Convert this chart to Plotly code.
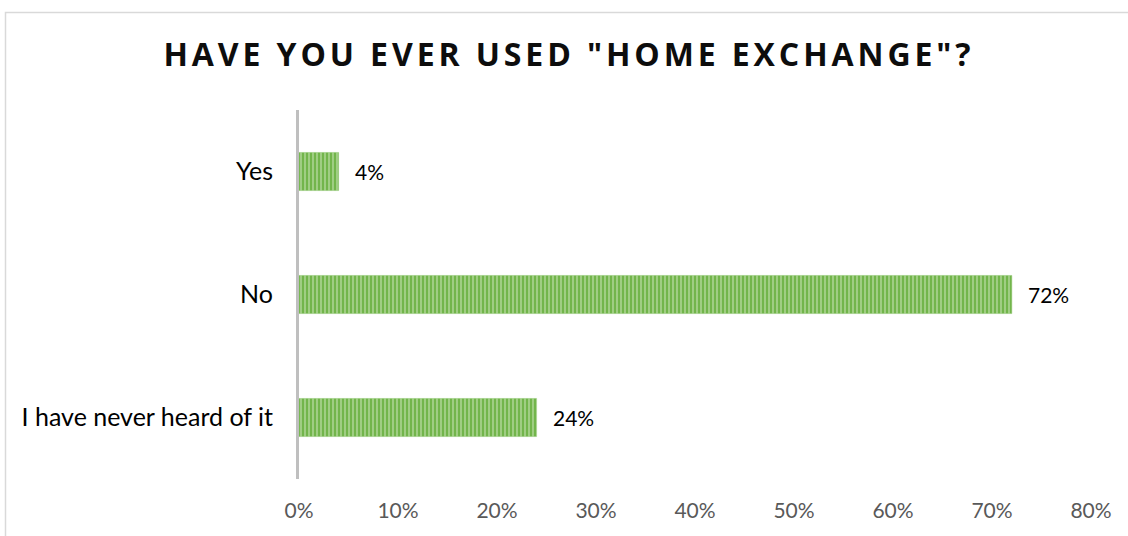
import plotly.graph_objects as go

# Survey answers, bottom to top as drawn on the category axis
categories = ["I have never heard of it", "No", "Yes"]
shares = [24, 72, 4]
x_ticks = [0, 10, 20, 30, 40, 50, 60, 70, 80]
x_tick_labels = ["0%", "10%", "20%", "30%", "40%", "50%", "60%", "70%", "80%"]
title_text = 'HAVE YOU EVER USED "HOME EXCHANGE"?'

W, H = 1128, 536
ML, MR, MT, MB = 299, 37, 110, 57
PW, PH = W - ML - MR, H - MT - MB

label_font = "Lato, 'Open Sans', sans-serif"

fig = go.Figure()
fig.add_trace(go.Bar(
    x=shares,
    y=categories,
    orientation="h",
    width=0.31,
    marker=dict(
        color="#72b54b",
        line=dict(color="#8cc46c", width=0.5),
        pattern=dict(shape="|", fgcolor="#d6ecc8", bgcolor="#72b54b",
                     size=4, solidity=0.45, fillmode="overlay"),
    ),
    hoverinfo="skip",
))

# value labels just to the right of each bar
for v, c in zip(shares, categories):
    fig.add_annotation(
        x=v, y=c, text=f"{v}%", showarrow=False,
        xanchor="left", yanchor="middle", xshift=14,
        font=dict(family=label_font, size=21, color="#000000"),
    )

# outer chart frame
fig.add_shape(
    type="rect", xref="paper", yref="paper",
    x0=(5.5 - ML) / PW, x1=(W + 20 - ML) / PW,
    y0=-(H + 20 - (H - MB)) / PH, y1=((H - MB) - 12.5) / PH,
    line=dict(color="#d9d9d9", width=1.5), fillcolor="rgba(0,0,0,0)",
    layer="below",
)

fig.update_layout(
    width=W, height=H,
    margin=dict(l=ML, r=MR, t=MT, b=MB, pad=0),
    paper_bgcolor="white", plot_bgcolor="white",
    showlegend=False,
    title=dict(
        text=f'<span style="letter-spacing:3.9px">{title_text}</span>',
        x=569 / W, xanchor="center", xref="container",
        y=1 - 54.5 / H, yanchor="middle", yref="container",
        font=dict(family="'Open Sans', sans-serif", size=32, color="#0d0d0d",
                  weight="bold"),
    ),
    xaxis=dict(
        range=[0, 80], tickvals=x_ticks, ticktext=x_tick_labels,
        showgrid=False, zeroline=False, showline=False, ticks="",
        tickfont=dict(family=label_font, size=21, color="#595959"),
        ticklabelstandoff=17, fixedrange=True,
    ),
    yaxis=dict(
        categoryorder="array", categoryarray=categories,
        showgrid=False, zeroline=False,
        showline=True, linecolor="#bfbfbf", linewidth=3,
        ticks="", ticklabelstandoff=18,
        tickfont=dict(family=label_font, size=25, color="#000000"),
        fixedrange=True,
    ),
)

fig.write_html("out.html")
